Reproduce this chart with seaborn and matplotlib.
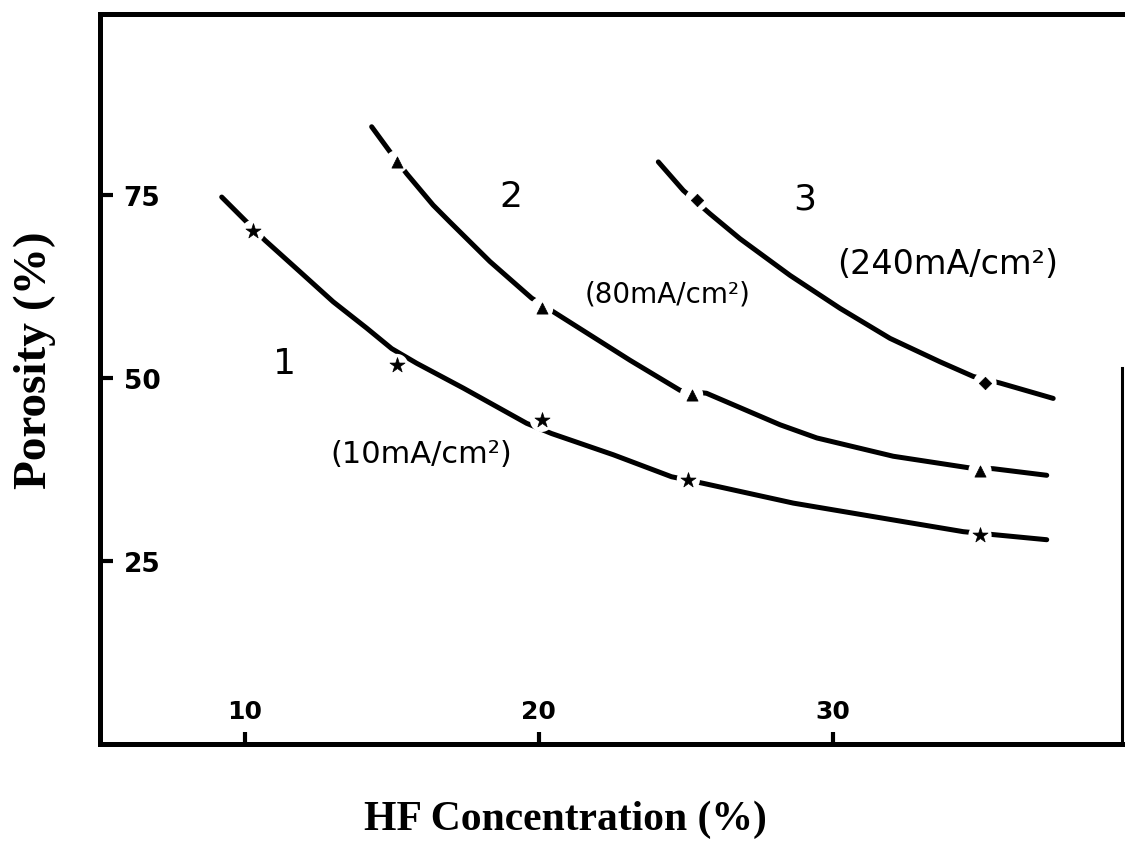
import matplotlib
matplotlib.use("Agg")
import matplotlib.pyplot as plt
import seaborn as sns
import pandas as pd

# ---- data ----
# traced curves (HF concentration %, porosity %)
hf_1 = [9.22, 10.69, 11.88, 13.01, 14.15, 15.0, 15.85, 17.44, 19.59, 20.44, 22.54,
        24.52, 25.60, 28.66, 32.06, 34.44, 35.46, 37.28]
por_1 = [74.7, 68.8, 64.5, 60.4, 56.8, 54.0, 52.0, 48.6, 43.8, 42.4, 39.5,
         36.5, 35.6, 32.9, 30.6, 29.0, 28.6, 27.9]

hf_2 = [14.32, 14.94, 15.51, 16.41, 16.98, 18.34, 19.76, 20.67, 23.11, 24.81,
        25.71, 28.21, 29.46, 32.06, 34.67, 35.46, 37.28]
por_2 = [84.3, 80.9, 77.9, 73.6, 71.3, 65.9, 60.9, 58.6, 52.4, 48.3,
         47.9, 43.6, 41.8, 39.3, 37.7, 37.6, 36.7]

hf_3 = [24.07, 24.92, 25.83, 26.85, 28.55, 30.25, 31.95, 33.65, 34.78, 35.69, 37.50]
por_3 = [79.5, 75.6, 72.4, 69.0, 64.0, 59.5, 55.4, 52.2, 50.2, 49.3, 47.2]

# measured points (markers)
pts_hf_1 = [10.29, 15.17, 20.10, 25.09, 35.01]
pts_por_1 = [70.0, 51.7, 44.2, 36.1, 28.5]
pts_hf_2 = [15.17, 20.10, 25.20, 35.01]
pts_por_2 = [79.5, 59.5, 47.7, 37.3]
pts_hf_3 = [25.37, 35.18]
pts_por_3 = [74.3, 49.3]

x_ticks = [10, 20, 30]
y_ticks = [25, 50, 75]

curve_ids = ["1", "2", "3"]
curve_labels = ["(10mA/cm²)", "(80mA/cm²)", "(240mA/cm²)"]

# ---- build tables ----
curves = pd.concat([
    pd.DataFrame({"hf": hf_1, "por": por_1, "curve": "1"}),
    pd.DataFrame({"hf": hf_2, "por": por_2, "curve": "2"}),
    pd.DataFrame({"hf": hf_3, "por": por_3, "curve": "3"}),
], ignore_index=True)
points = {
    "1": pd.DataFrame({"hf": pts_hf_1, "por": pts_por_1}),
    "2": pd.DataFrame({"hf": pts_hf_2, "por": pts_por_2}),
    "3": pd.DataFrame({"hf": pts_hf_3, "por": pts_por_3}),
}

sns.set_theme(style="white")
plt.rcParams["font.family"] = ["DejaVu Sans"]
plt.rcParams["text.color"] = "black"
plt.rcParams["axes.labelcolor"] = "black"
plt.rcParams["xtick.color"] = "black"
plt.rcParams["ytick.color"] = "black"

fig = plt.figure(figsize=(11.28, 8.45), dpi=100)
ax = fig.add_axes([100 / 1128, 100 / 845, 1022 / 1128, 730 / 845])

sns.lineplot(data=curves, x="hf", y="por", hue="curve", palette=["black"] * 3,
             sort=False, estimator=None, linewidth=3.6, legend=False, ax=ax)

marker_style = {"1": ("*", 130), "2": ("^", 65), "3": ("D", 40)}
for cid in curve_ids:
    m, s = marker_style[cid]
    # white halo making the small break in the hand-drawn line
    sns.scatterplot(data=points[cid], x="hf", y="por", marker="o", s=280,
                    color="white", edgecolor="none", linewidth=0,
                    zorder=3, legend=False, ax=ax)
    sns.scatterplot(data=points[cid], x="hf", y="por", marker=m, s=s,
                    color="black", edgecolor="black", linewidth=0.5,
                    zorder=4, legend=False, ax=ax)

ax.set_xlim(5.08, 39.84)
ax.set_ylim(0, 99.7)
ax.set_xticks(x_ticks)
ax.set_yticks(y_ticks)
ax.set_xticklabels([str(t) for t in x_ticks], fontsize=18, fontweight="bold")
ax.set_yticklabels([str(t) for t in y_ticks], fontsize=19, fontweight="bold")
ax.tick_params(axis="both", direction="in", length=9, width=3, color="black",
               bottom=True, left=True)
ax.tick_params(axis="x", pad=-15)
ax.tick_params(axis="y", pad=-17)
for lab in ax.get_xticklabels():
    lab.set_va("bottom")
for lab in ax.get_yticklabels():
    lab.set_ha("left")

for side in ["left", "bottom", "top"]:
    ax.spines[side].set_linewidth(3.6)
    ax.spines[side].set_color("black")
ax.spines["right"].set_linewidth(2.2)
ax.spines["right"].set_color("black")
ax.spines["right"].set_bounds(0, 51.4)

ax.set_xlabel("HF Concentration (%)", fontsize=30, fontweight="bold",
              family="Liberation Serif")
ax.set_ylabel("Porosity (%)", fontsize=34, fontweight="bold",
              family="Liberation Serif")
ax.xaxis.set_label_coords(0.455, -0.103)
ax.xaxis.label.set_va("center")
ax.yaxis.set_label_coords(-0.064, 0.527)
ax.yaxis.label.set_va("center")

# curve numbers and current-density labels
num_pos = [(11.37, 52.0), (19.06, 74.9), (29.06, 74.5)]
lab_pos = [(16.0, 39.7), (24.4, 61.5), (33.92, 65.6)]
lab_size = [22, 20, 24]
for cid, (nx, ny), text, (lx, ly), fs in zip(curve_ids, num_pos, curve_labels,
                                             lab_pos, lab_size):
    ax.text(nx, ny, cid, fontsize=26, ha="center", va="center", color="black")
    ax.text(lx, ly, text, fontsize=fs, ha="center", va="center", color="black")

fig.savefig("out.png", dpi=100, facecolor="white")
